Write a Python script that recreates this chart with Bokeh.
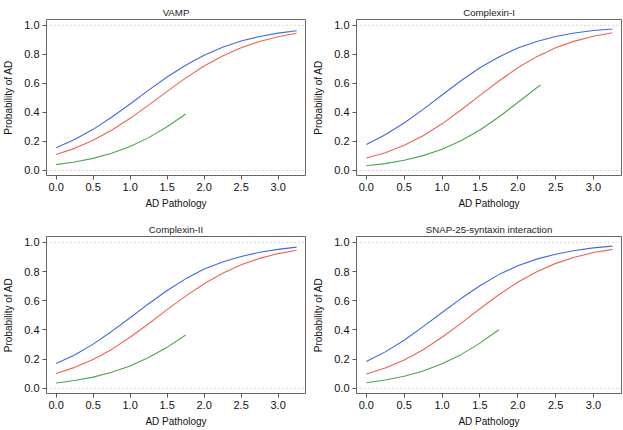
from bokeh.plotting import figure
from bokeh.layouts import column, row
from bokeh.models import FixedTicker, Range1d, Span, NumeralTickFormatter
from bokeh.embed import file_html
from bokeh.resources import INLINE

# ---------------- data ----------------
titles = ["VAMP", "Complexin-I", "Complexin-II", "SNAP-25-syntaxin interaction"]

x_full = [0.0, 0.25, 0.5, 0.75, 1.0, 1.25, 1.5, 1.75, 2.0, 2.25, 2.5, 2.75, 3.0, 3.25]

vamp_blue = [0.156, 0.213, 0.283, 0.366, 0.458, 0.553, 0.644, 0.725, 0.794, 0.849, 0.892, 0.923, 0.946, 0.963]
vamp_red = [0.109, 0.152, 0.208, 0.277, 0.359, 0.450, 0.545, 0.636, 0.719, 0.789, 0.846, 0.889, 0.921, 0.945]
vamp_green_x = [0.0, 0.25, 0.5, 0.75, 1.0, 1.25, 1.5, 1.75]
vamp_green = [0.040, 0.058, 0.083, 0.118, 0.165, 0.226, 0.301, 0.389]

cx1_blue = [0.179, 0.246, 0.327, 0.421, 0.520, 0.618, 0.707, 0.782, 0.843, 0.889, 0.923, 0.947, 0.964, 0.975]
cx1_red = [0.085, 0.122, 0.174, 0.239, 0.321, 0.416, 0.517, 0.616, 0.707, 0.784, 0.845, 0.891, 0.925, 0.949]
cx1_green_x = [0.0, 0.25, 0.5, 0.75, 1.0, 1.25, 1.5, 1.75, 2.0, 2.25, 2.3]
cx1_green = [0.032, 0.047, 0.070, 0.102, 0.146, 0.204, 0.279, 0.368, 0.468, 0.570, 0.589]

cx2_blue = [0.170, 0.229, 0.303, 0.390, 0.484, 0.580, 0.670, 0.750, 0.817, 0.866, 0.903, 0.932, 0.952, 0.967]
cx2_red = [0.102, 0.144, 0.198, 0.267, 0.350, 0.443, 0.539, 0.632, 0.717, 0.789, 0.847, 0.890, 0.923, 0.946]
cx2_green_x = [0.0, 0.25, 0.5, 0.75, 1.0, 1.25, 1.5, 1.75]
cx2_green = [0.037, 0.054, 0.077, 0.110, 0.153, 0.211, 0.281, 0.366]

snap_blue = [0.184, 0.250, 0.330, 0.423, 0.520, 0.615, 0.703, 0.779, 0.839, 0.885, 0.919, 0.944, 0.962, 0.974]
snap_red = [0.098, 0.139, 0.195, 0.265, 0.350, 0.445, 0.545, 0.641, 0.727, 0.799, 0.856, 0.898, 0.930, 0.952]
snap_green_x = [0.0, 0.25, 0.5, 0.75, 1.0, 1.25, 1.5, 1.75]
snap_green = [0.039, 0.057, 0.083, 0.119, 0.168, 0.231, 0.310, 0.401]

x_ticks = [0.0, 0.5, 1.0, 1.5, 2.0, 2.5, 3.0]
y_ticks = [0.0, 0.2, 0.4, 0.6, 0.8, 1.0]
x_label = "AD Pathology"
y_label = "Probability of AD"

BLUE = "#4169E1"
RED = "#EE6452"
GREEN = "#4CA64C"
FONT = "Liberation Sans"


def make_panel(title, blue, red, gx, green, width, height, mb_left, mb_right, mb_top, mb_bottom):
    p = figure(width=width, height=height, output_backend="svg", toolbar_location=None,
               x_range=Range1d(-0.13, 3.37), y_range=Range1d(-0.035, 1.04),
               min_border_left=mb_left, min_border_right=mb_right,
               min_border_top=mb_top, min_border_bottom=mb_bottom)
    p.title.text = title
    p.title.text_font = FONT
    p.title.text_font_size = "9.7px"
    p.title.text_font_style = "normal"
    p.title.align = "center"
    p.title.vertical_align = "top"
    p.title.standoff = 0
    p.title.text_color = "#222222"

    p.xgrid.visible = False
    p.ygrid.visible = False
    p.outline_line_color = "#666666"
    p.outline_line_width = 1
    p.background_fill_color = "white"
    p.border_fill_color = "white"

    for loc in (0.0, 1.0):
        p.add_layout(Span(location=loc, dimension="width", line_color="#aaaaaa",
                          line_width=1, line_dash="1 3"))

    p.line(x_full, blue, line_color=BLUE, line_width=1.1)
    p.line(x_full, red, line_color=RED, line_width=1.1)
    p.line(gx, green, line_color=GREEN, line_width=1.1)

    p.xaxis.ticker = FixedTicker(ticks=x_ticks)
    p.yaxis.ticker = FixedTicker(ticks=y_ticks)
    p.xaxis.formatter = NumeralTickFormatter(format="0.0")
    p.yaxis.formatter = NumeralTickFormatter(format="0.0")
    p.xaxis.axis_label = x_label
    p.yaxis.axis_label = y_label
    for ax in (p.xaxis, p.yaxis):
        ax.axis_line_color = None
        ax.major_tick_line_color = "#555555"
        ax.major_tick_out = 4
        ax.major_tick_in = 0
        ax.minor_tick_line_color = None
        ax.major_label_text_font = FONT
        ax.major_label_text_font_size = "11px"
        ax.major_label_text_color = "#111111"
        ax.major_label_standoff = 3
        ax.axis_label_text_font = FONT
        ax.axis_label_text_font_size = "10px"
        ax.axis_label_text_font_style = "normal"
        ax.axis_label_text_color = "#111111"
    p.xaxis.axis_label_standoff = 4
    p.yaxis.axis_label_standoff = 7
    return p


p1 = make_panel(titles[0], vamp_blue, vamp_red, vamp_green_x, vamp_green, 310, 215, 40, 5, 19, 40)
p2 = make_panel(titles[1], cx1_blue, cx1_red, cx1_green_x, cx1_green, 313, 215, 46, 2, 19, 40)
p3 = make_panel(titles[2], cx2_blue, cx2_red, cx2_green_x, cx2_green, 310, 215, 40, 5, 21, 37)
p4 = make_panel(titles[3], snap_blue, snap_red, snap_green_x, snap_green, 313, 215, 46, 2, 21, 37)

layout = column(row(p1, p2), row(p3, p4))

open("out.html", "w").write(file_html(layout, INLINE))
